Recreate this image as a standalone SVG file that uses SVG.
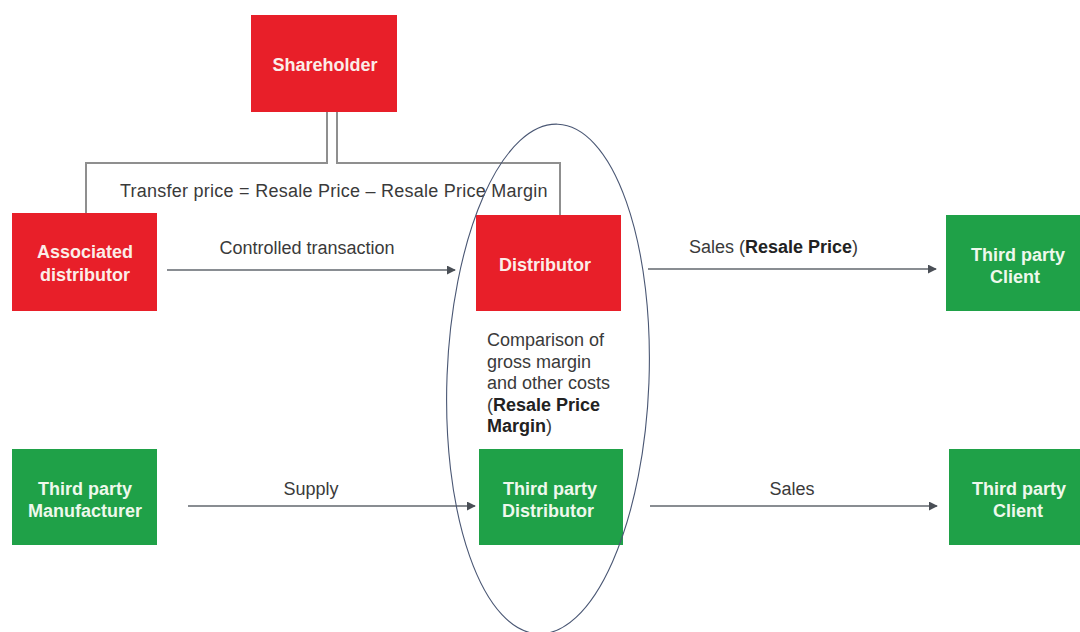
<svg xmlns="http://www.w3.org/2000/svg" width="1080" height="632" viewBox="0 0 1080 632">
<defs>
<style>
.red{fill:#E81F29}
.green{fill:#1FA148}
.bt{font-family:"Liberation Sans",Arial,sans-serif;font-size:18px;font-weight:bold;text-anchor:middle}
.rt{fill:#FBEDE8}
.gt{fill:#EEF8EC}
.lbl{font-family:"Liberation Sans",Arial,sans-serif;font-size:18px;fill:#3a3a3a}
.b{font-weight:bold;fill:#222}
.tree{fill:none;stroke:#8f8f8f;stroke-width:2}
.arr{fill:none;stroke:#62676e;stroke-width:1.5;marker-end:url(#ah)}
</style>
<marker id="ah" viewBox="0 0 10 10" refX="9" refY="5" markerWidth="6" markerHeight="6" orient="auto" markerUnits="strokeWidth">
<path d="M0,0 L10,5 L0,10 z" fill="#4a4f56"/>
</marker>
</defs>
<rect width="1080" height="632" fill="#ffffff"/>

<g id="connectors">
<polyline class="tree" points="327,112 327,163 86,163 86,213"/>
<polyline class="tree" points="337,112 337,163 560,163 560,215"/>
<line class="arr" x1="167" y1="270" x2="455" y2="270"/>
<line class="arr" x1="648" y1="269" x2="936" y2="269"/>
<line class="arr" x1="188" y1="506" x2="475" y2="506"/>
<line class="arr" x1="650" y1="506" x2="937" y2="506"/>
<text class="lbl" x="120" y="197" letter-spacing="0.25">Transfer price = Resale Price – Resale Price Margin</text>
<text class="lbl" x="307" y="254" text-anchor="middle">Controlled transaction</text>
<text class="lbl" x="689" y="253">Sales (<tspan class="b">Resale Price</tspan>)</text>
<text class="lbl" x="311" y="495" text-anchor="middle">Supply</text>
<text class="lbl" x="792" y="495" text-anchor="middle">Sales</text>
</g>

<g id="shareholder">
<rect class="red" x="251" y="15" width="146" height="97"/>
<text class="bt rt" x="325" y="71">Shareholder</text>
</g>

<g id="associated-distributor">
<rect class="red" x="12" y="213" width="145" height="98"/>
<text class="bt rt" x="85" y="258">Associated</text>
<text class="bt rt" x="85" y="281">distributor</text>
</g>

<g id="distributor">
<rect class="red" x="476" y="215" width="145" height="96"/>
<text class="bt rt" x="545" y="271">Distributor</text>
</g>

<g id="client-top">
<rect class="green" x="946" y="215" width="140" height="96"/>
<text class="bt gt" x="1018" y="261">Third party</text>
<text class="bt gt" x="1015" y="283">Client</text>
</g>

<g id="comparison">
<text class="lbl" x="487" y="346">Comparison of</text>
<text class="lbl" x="487" y="367.5">gross margin</text>
<text class="lbl" x="487" y="389">and other costs</text>
<text class="lbl" x="487" y="410.5">(<tspan class="b">Resale Price</tspan></text>
<text class="lbl" x="487" y="432"><tspan class="b">Margin</tspan>)</text>
</g>

<g id="manufacturer">
<rect class="green" x="12" y="449" width="145" height="96"/>
<text class="bt gt" x="85" y="495">Third party</text>
<text class="bt gt" x="85" y="517">Manufacturer</text>
</g>

<g id="third-party-distributor">
<rect class="green" x="479" y="449" width="144" height="96"/>
<text class="bt gt" x="550" y="495">Third party</text>
<text class="bt gt" x="548" y="517">Distributor</text>
</g>

<g id="client-bottom">
<rect class="green" x="949" y="449" width="140" height="96"/>
<text class="bt gt" x="1019" y="495">Third party</text>
<text class="bt gt" x="1018" y="517">Client</text>
</g>

<g id="ellipse">
<ellipse cx="548" cy="379" rx="101" ry="255" transform="rotate(2.2 548 379)" fill="none" stroke="#4a5774" stroke-width="1.1"/>
</g>
</svg>
